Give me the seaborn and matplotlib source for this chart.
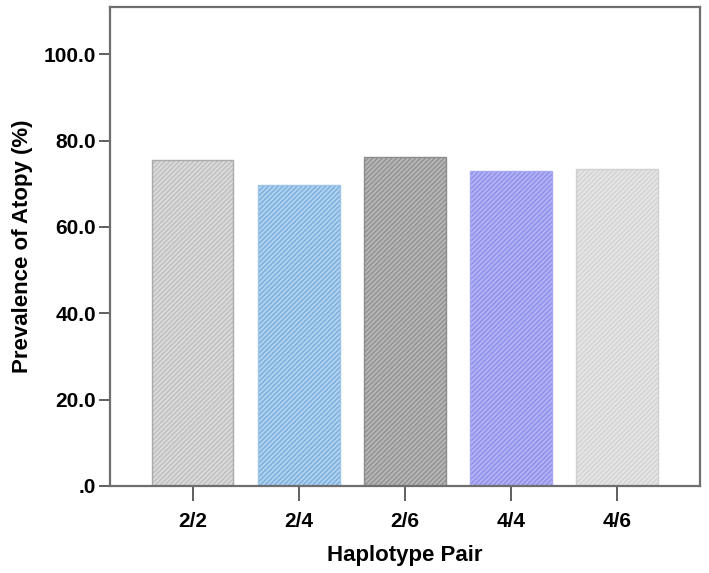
import matplotlib
matplotlib.use("Agg")
import matplotlib.pyplot as plt
import seaborn as sns
import pandas as pd

# values
pairs = ["2/2", "2/4", "2/6", "4/4", "4/6"]
prevalence = [75.5, 69.7, 76.2, 72.9, 73.4]
base_colors = ["#c0c0c0", "#7cb0de", "#939393", "#9090ec", "#d4d4d4"]
stripe_colors = ["#dcdcdc", "#b4d3ef", "#b8b8b8", "#b4b4f4", "#e6e6e6"]
border_colors = ["#aaaaaa", "#9ec4e8", "#8c8c8c", "#a8a8f0", "#d0d0d0"]
y_ticks = [0, 20, 40, 60, 80, 100]
y_tick_labels = [".0", "20.0", "40.0", "60.0", "80.0", "100.0"]

df = pd.DataFrame({"pair": pairs, "prev": prevalence})

sns.set_style("white")
plt.rcParams["font.family"] = ["Liberation Sans", "DejaVu Sans"]
plt.rcParams["hatch.linewidth"] = 1.3

fig = plt.figure(figsize=(7.09, 5.73), dpi=100)
ax = fig.add_axes([0.155, 0.152, 0.832, 0.836])

# hatched fill
sns.barplot(data=df, x="pair", y="prev", hue="pair", palette=base_colors,
            width=0.77, legend=False, ax=ax, saturation=1)
for patch, sc in zip(ax.patches, stripe_colors):
    patch.set_hatch("///////")
    patch.set_edgecolor(sc)
    patch.set_linewidth(0)

# outlines
sns.barplot(data=df, x="pair", y="prev", width=0.77, fill=False,
            ax=ax, color="#999999")
for patch, bc in zip(ax.patches[len(pairs):], border_colors):
    patch.set_edgecolor(bc)
    patch.set_linewidth(1.0)

ax.set_xlim(-0.78, 4.78)
ax.set_ylim(0, 111)
ax.set_yticks(y_ticks)
ax.set_yticklabels(y_tick_labels)

for side in ["left", "right", "top", "bottom"]:
    ax.spines[side].set_visible(True)
    ax.spines[side].set_color("#6e6e6e")
    ax.spines[side].set_linewidth(1.6)

ax.tick_params(axis="y", direction="out", length=8, width=1.2, color="#444444",
               labelsize=15, pad=2, left=True, labelcolor="black")
ax.tick_params(axis="x", direction="out", length=11, width=1.2, color="#444444",
               labelsize=15, pad=8, bottom=True, labelcolor="black")
for lbl in ax.get_xticklabels() + ax.get_yticklabels():
    lbl.set_fontweight("bold")

ax.set_xlabel("Haplotype Pair", fontsize=16, fontweight="bold", labelpad=10,
              color="black")
ax.set_ylabel("Prevalence of Atopy (%)", fontsize=16, fontweight="bold",
              labelpad=8, color="black")

fig.savefig("out.png", dpi=100)
